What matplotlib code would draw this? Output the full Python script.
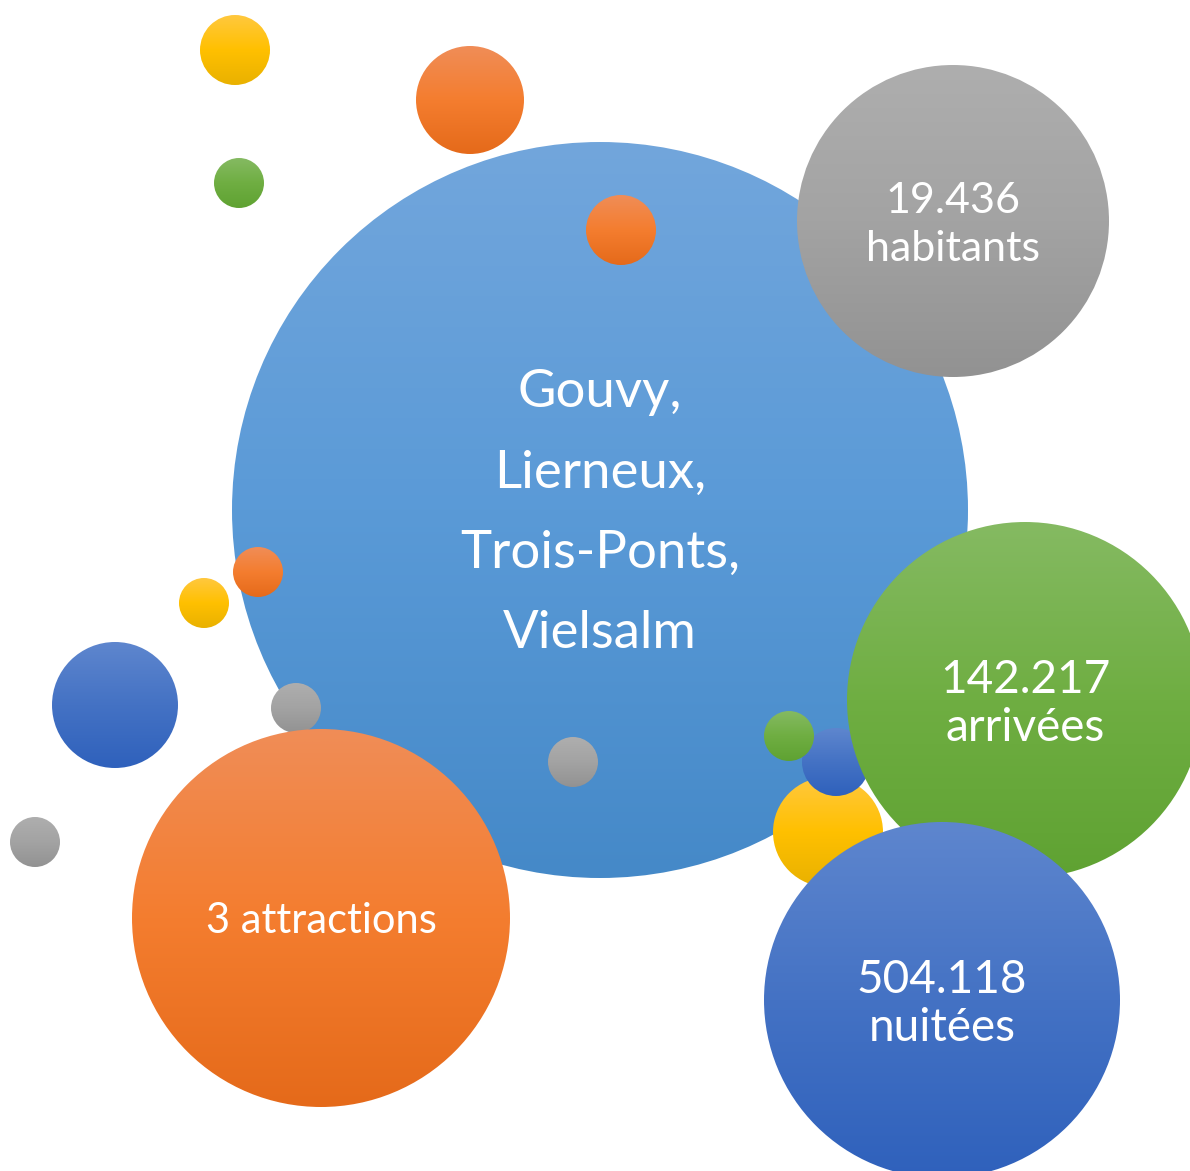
import numpy as np
import matplotlib.pyplot as plt
from matplotlib.patches import Circle
from matplotlib.colors import LinearSegmentedColormap

# text shown in the big bubbles
communes = ["Gouvy,", "Lierneux,", "Trois-Ponts,", "Vielsalm"]
stat_values = ["19.436", "142.217", "504.118"]
stat_units = ["habitants", "arrivées", "nuitées"]
attractions_label = "3 attractions"

# gradient stops (top, middle, bottom) for each colour family
gradients = {
    "lightblue": ["#72A6DC", "#5A9AD7", "#4589C8"],
    "orange": ["#F08D57", "#F47D2F", "#E56A1A"],
    "gray": ["#AEAEAE", "#A3A3A3", "#929292"],
    "yellow": ["#FFC83E", "#FFC000", "#E9B100"],
    "blue": ["#5E86CE", "#4472C4", "#2F61BC"],
    "green": ["#85BA62", "#6FAE42", "#5FA232"],
}

# bubble layout in pixel space: (x, y, radius, colour), drawn in this order
bubbles = [
    (600, 510, 368, "lightblue"),
    (235, 50, 35, "yellow"),
    (470, 100, 54, "orange"),
    (239, 183, 25, "green"),
    (621, 230, 35, "orange"),
    (258, 572, 25, "orange"),
    (204, 603, 25, "yellow"),
    (115, 705, 63, "blue"),
    (296, 708, 25, "gray"),
    (573, 762, 25, "gray"),
    (35, 842, 25, "gray"),
    (953, 221, 156, "gray"),
    (828, 832, 55, "yellow"),
    (836, 762, 34, "blue"),
    (789, 736, 25, "green"),
    (1025, 700, 178, "green"),
    (942, 1000, 178, "blue"),
    (321, 918, 189, "orange"),
]

W, H = 1190, 1171
fig = plt.figure(figsize=(W / 100, H / 100), dpi=100)
ax = fig.add_axes([0, 0, 1, 1])

grad = np.linspace(0, 1, 256).reshape(-1, 1)
for z, (cx, cy, r, cname) in enumerate(bubbles):
    cmap = LinearSegmentedColormap.from_list(cname, gradients[cname])
    im = ax.imshow(grad, cmap=cmap, extent=[cx - r, cx + r, cy + r, cy - r],
                   aspect="auto", zorder=z + 1, interpolation="bilinear")
    circ = Circle((cx, cy), r, transform=ax.transData, facecolor="none",
                  edgecolor="none")
    ax.add_patch(circ)
    im.set_clip_path(circ)

ax.set_xlim(0, W)
ax.set_ylim(H, 0)
ax.axis("off")

font = dict(family="Lato", color="white", ha="center", va="center", zorder=50)

for i, line in enumerate(communes):
    ax.text(600, 393 + i * 80, line, fontsize=38, **font)

stat_pos = [(953, 201, 31), (1025, 680, 33), (942, 980, 33)]
for (x, y, fs), val, unit in zip(stat_pos, stat_values, stat_units):
    ax.text(x, y, val, fontsize=fs, **font)
    ax.text(x, y + 48, unit, fontsize=fs, **font)

ax.text(321, 921, attractions_label, fontsize=30, **font)

fig.savefig("out.png", dpi=100, facecolor="white")
